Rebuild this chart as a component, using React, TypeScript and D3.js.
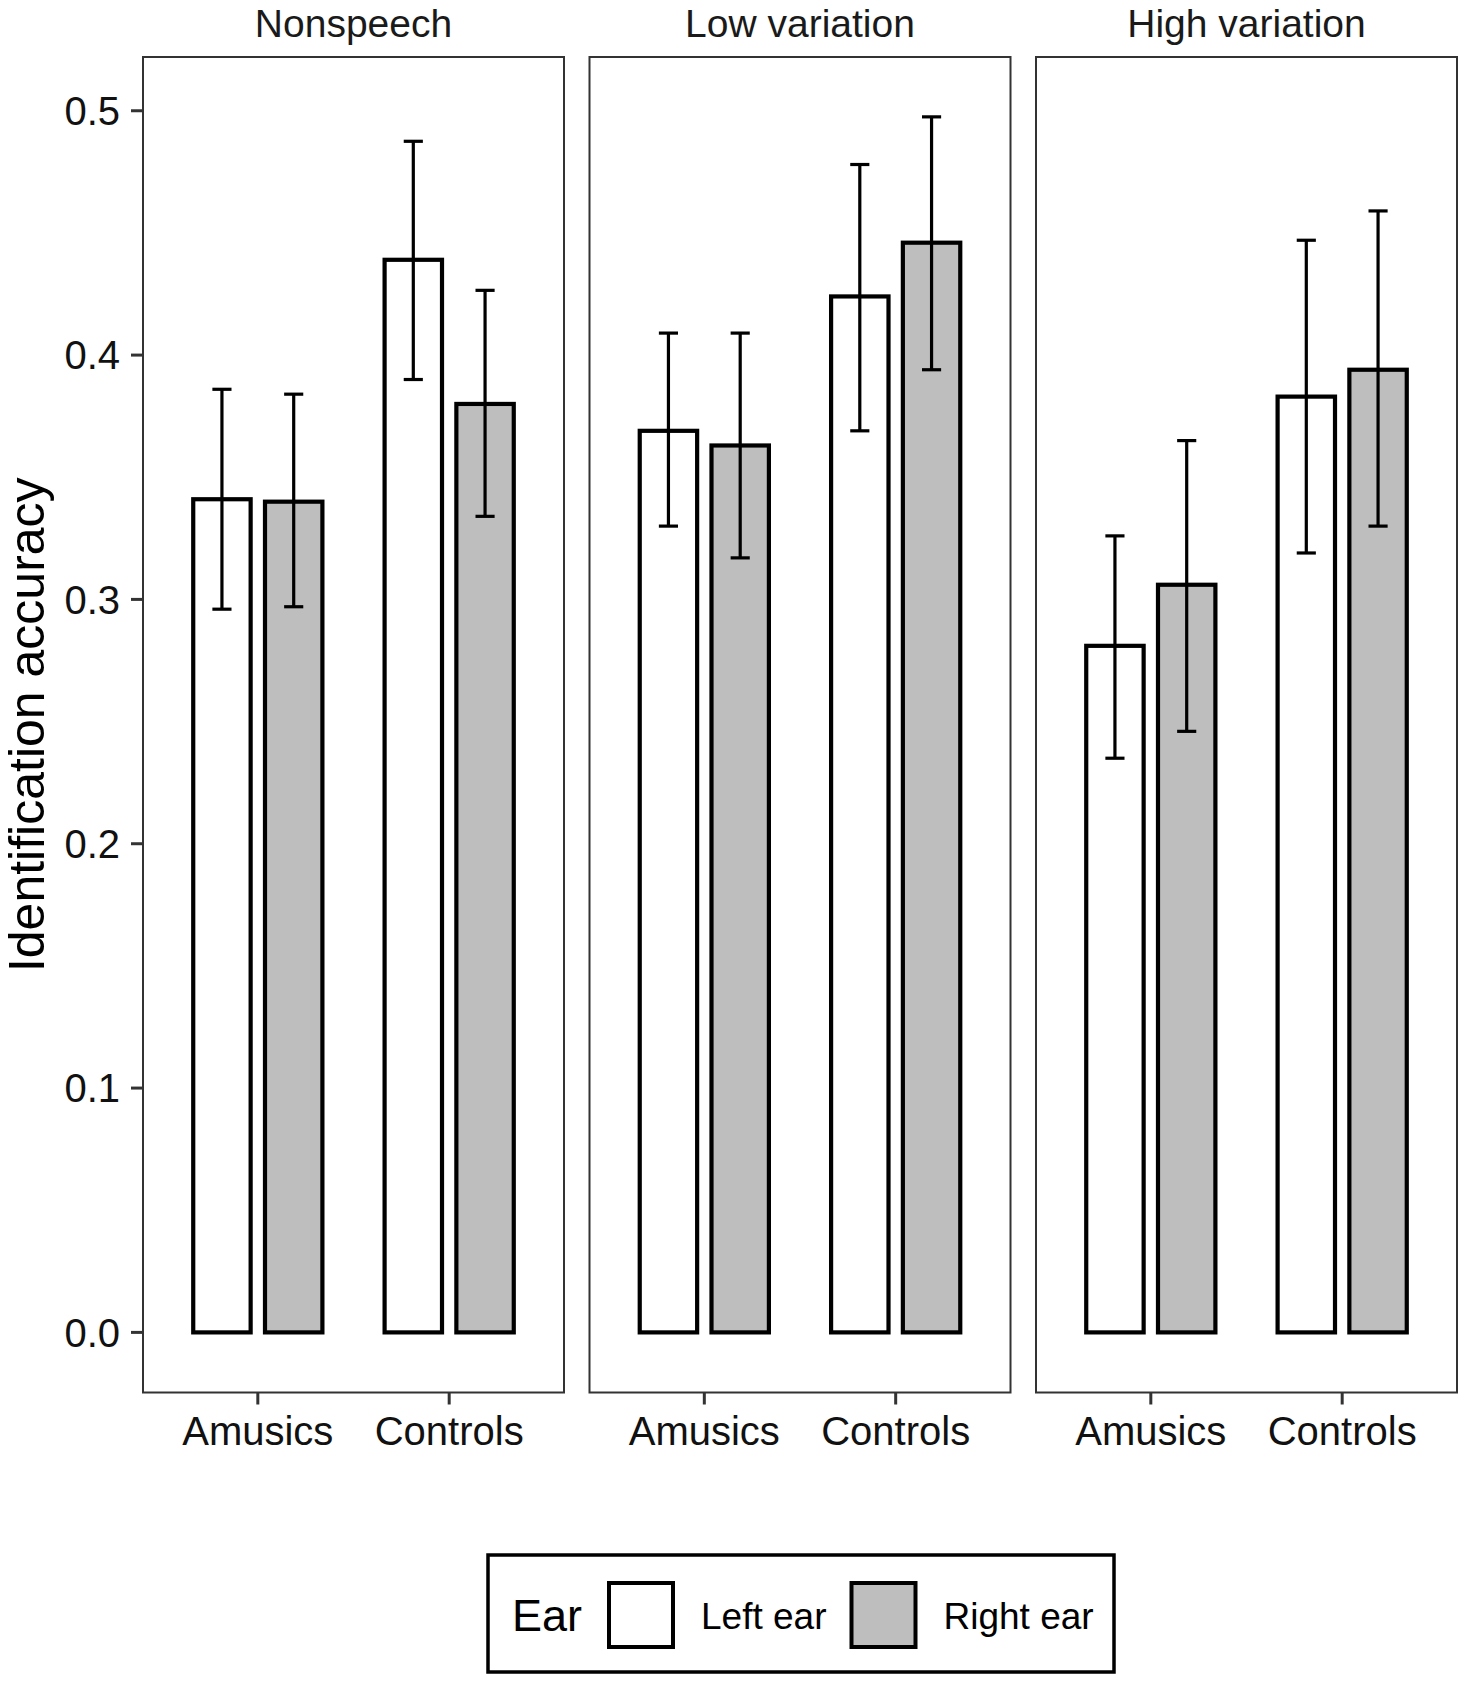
import React from "react";
import * as d3 from "d3";

// ---- Data ----
const facets = ["Nonspeech", "Low variation", "High variation"];
const groups = ["Amusics", "Controls"];
const ears = ["Left ear", "Right ear"];
const earFills = ["#ffffff", "#bebebe"];

// mean accuracy [facet][group][ear]
const means = [
  [[0.341, 0.340], [0.439, 0.380]],
  [[0.369, 0.363], [0.424, 0.446]],
  [[0.281, 0.306], [0.383, 0.394]],
];
const lowers = [
  [[0.296, 0.297], [0.390, 0.334]],
  [[0.330, 0.317], [0.369, 0.394]],
  [[0.235, 0.246], [0.319, 0.330]],
];
const uppers = [
  [[0.386, 0.384], [0.4875, 0.4265]],
  [[0.409, 0.409], [0.478, 0.4975]],
  [[0.326, 0.365], [0.447, 0.459]],
];
const yTicks = [0, 0.1, 0.2, 0.3, 0.4, 0.5];

// ---- Layout ----
const W = 1465;
const H = 1681;
const panelTop = 57;
const panelBottom = 1392.5;
const panelLeft0 = 143;
const panelW = 421;
const panelGap = 25.5;
const font = "'Liberation Sans', Arial, Helvetica, sans-serif";

const y = d3.scaleLinear().domain([-0.0246, 0.522]).range([panelBottom, panelTop]);
// discrete x: categories at 1..n, expanded by 0.6 on each side
const xUnit = d3.scaleLinear().domain([0.4, groups.length + 0.6]).range([0, panelW]);
const dodge = 0.75;
const barWidth = 0.6 / ears.length;
const capWidth = 0.1;

export default function App() {
  const fmt = d3.format(".1f");
  return (
    <svg
      width={W}
      height={H}
      viewBox={`0 0 ${W} ${H}`}
      style={{ position: "absolute", left: 0, top: 0, background: "#fff" }}
      fontFamily={font}
    >
      <rect x={0} y={0} width={W} height={H} fill="#fff" />
      {/* Y axis title */}
      <text
        transform={`translate(43.5, ${(panelTop + panelBottom) / 2}) rotate(-90)`}
        textAnchor="middle"
        fontSize={50}
        fill="#000"
      >
        Identification accuracy
      </text>
      {/* Y ticks */}
      {yTicks.map((t) => (
        <g key={t}>
          <line x1={131} x2={panelLeft0} y1={y(t)} y2={y(t)} stroke="#333" strokeWidth={3} />
          <text x={120} y={y(t)} dy="0.36em" textAnchor="end" fontSize={40} fill="#111">
            {fmt(t)}
          </text>
        </g>
      ))}
      {facets.map((f, fi) => {
        const px = panelLeft0 + fi * (panelW + panelGap);
        return (
          <g key={f}>
            <rect x={px} y={panelTop} width={panelW} height={panelBottom - panelTop} fill="#fff" />
            <text x={px + panelW / 2} y={36.5} textAnchor="middle" fontSize={39} fill="#1a1a1a">
              {f}
            </text>
            {groups.map((g, gi) => {
              const cx = gi + 1;
              return (
                <g key={g}>
                  {ears.map((e, ei) => {
                    const c = cx - dodge / 2 + (dodge / ears.length) * (ei + 0.5);
                    const x0 = px + xUnit(c - barWidth / 2);
                    const x1 = px + xUnit(c + barWidth / 2);
                    const v = means[fi][gi][ei];
                    return (
                      <rect
                        key={e}
                        x={x0}
                        y={y(v)}
                        width={x1 - x0}
                        height={y(0) - y(v)}
                        fill={earFills[ei]}
                        stroke="#000"
                        strokeWidth={4.2}
                      />
                    );
                  })}
                  {ears.map((e, ei) => {
                    const c = cx - dodge / 2 + (dodge / ears.length) * (ei + 0.5);
                    const xc = px + xUnit(c);
                    const xa = px + xUnit(c - capWidth / 2);
                    const xb = px + xUnit(c + capWidth / 2);
                    const lo = y(lowers[fi][gi][ei]);
                    const hi = y(uppers[fi][gi][ei]);
                    return (
                      <g key={e} stroke="#000" strokeWidth={3.2}>
                        <line x1={xc} x2={xc} y1={lo} y2={hi} />
                        <line x1={xa} x2={xb} y1={hi} y2={hi} />
                        <line x1={xa} x2={xb} y1={lo} y2={lo} />
                      </g>
                    );
                  })}
                  <line
                    x1={px + xUnit(cx)}
                    x2={px + xUnit(cx)}
                    y1={panelBottom}
                    y2={panelBottom + 12}
                    stroke="#333"
                    strokeWidth={3}
                  />
                  <text x={px + xUnit(cx)} y={1445} textAnchor="middle" fontSize={40} fill="#111">
                    {g}
                  </text>
                </g>
              );
            })}
            <rect
              x={px}
              y={panelTop}
              width={panelW}
              height={panelBottom - panelTop}
              fill="none"
              stroke="#333"
              strokeWidth={2}
            />
          </g>
        );
      })}
      {/* Legend */}
      <rect x={488} y={1555} width={626} height={117} fill="#fff" stroke="#000" strokeWidth={3.5} />
      <text x={512} y={1631} fontSize={45} fill="#000">
        Ear
      </text>
      {ears.map((e, ei) => {
        const kx = 609 + ei * 242.5;
        return (
          <g key={e}>
            <rect x={kx} y={1583} width={64} height={64} fill={earFills[ei]} stroke="#000" strokeWidth={4} />
            <text x={kx + 92} y={1629} fontSize={37} fill="#000">
              {e}
            </text>
          </g>
        );
      })}
    </svg>
  );
}
